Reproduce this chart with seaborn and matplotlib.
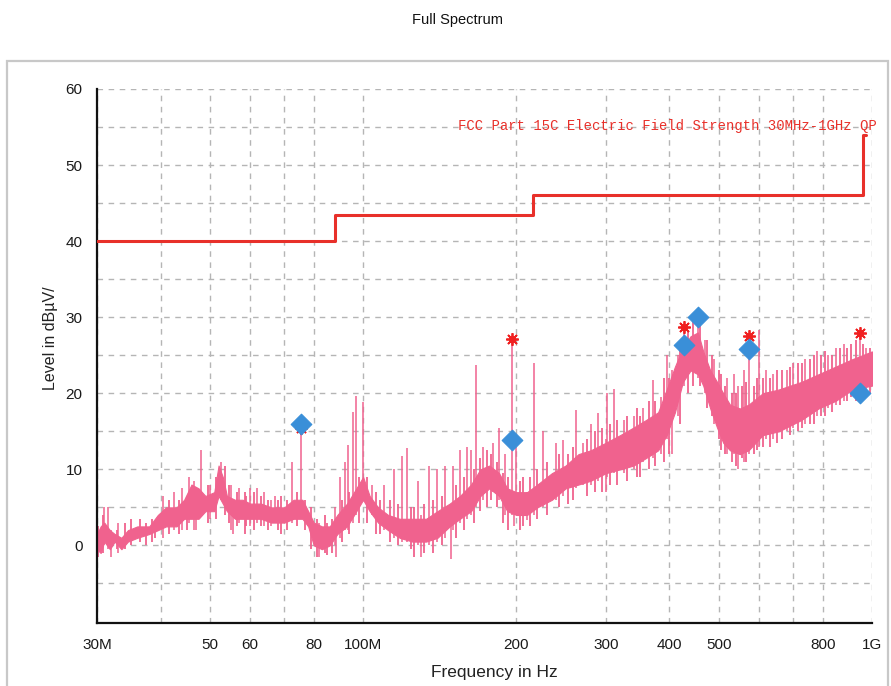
import pandas as pd
import matplotlib
matplotlib.use('Agg')
import matplotlib.pyplot as plt
import seaborn as sns
from matplotlib.patches import Rectangle
from matplotlib.ticker import FixedLocator, FixedFormatter, NullLocator

# 频谱包络 (MHz, dBµV/m) 从图中读取
spec_freq = [30, 30.5, 31, 31.8, 32.5, 33.5, 34.5, 36, 38, 39.5, 41, 43, 44.5, 46, 47.5, 49, 51, 52, 53, 54,
             56, 58, 60, 63, 66, 70, 73, 76, 78, 80, 83, 86, 89, 93, 97, 100, 103, 107, 112, 118,
             125, 133, 140, 148, 155, 163, 170, 177, 185, 192, 200, 210, 220, 235, 250, 265, 280, 300, 320, 340,
             360, 380, 395, 410, 425, 440, 455, 466, 481, 496, 510, 526, 550, 572, 610, 656, 727, 785, 848, 916, 1000]
spec_lo = [-0.5, -1, 0.5, -0.5, 0.5, -0.5, 0.5, 1, 1.5, 2, 2.5, 2.5, 3.5, 3.5, 3.5, 4.5, 4.5, 6.5, 5.5, 4.5,
           3.5, 3.5, 3.5, 3.5, 3, 3, 3.5, 3.5, 2.5, 0, -0.5, 0, 1.5, 2.5, 4.5, 6, 4.5, 3, 2, 1,
           0.5, 0.5, 1, 2.5, 3.5, 4.5, 6.5, 7.5, 6.5, 4.5, 4, 4, 5, 6, 7.5, 8, 8.5, 9.5, 10, 10.5,
           11.5, 12.5, 14.5, 17.5, 21.5, 23, 22.5, 21, 18, 15.5, 13.5, 12.5, 12, 12.5, 14.5, 15, 16.5, 18, 19, 20.5, 21]
spec_hi = [1.5, 2.5, 3, 2, 1.5, 1, 2, 2.5, 2.5, 4, 5, 5, 6, 8, 7.5, 6.5, 7, 10.5, 9, 6.5,
           6, 6, 5.5, 5.5, 5, 5, 6, 6, 4.5, 3, 2.5, 2.5, 4, 5.5, 7.5, 9, 6.5, 5, 4, 3.5,
           3.5, 3.5, 4.5, 5.5, 6.5, 8, 10, 10.5, 9.5, 7.5, 7, 7, 8, 9.5, 10.5, 12, 12.5, 13.5, 14.5, 15.5,
           16.5, 17.5, 20.5, 23.5, 26, 27.5, 28, 25.5, 23, 21.5, 20, 18.5, 18, 18.5, 20, 20.5, 21.5, 22.5, 23.5, 24.5, 25.5]

# 尖峰 (频率, 下端, 上端)
spike_f = [31, 31.5, 32, 33, 40.5, 42.5, 44, 45.5, 46.5, 47, 48, 50, 52.5, 55, 55.5, 57, 60, 62, 64, 66,
           67, 72.5, 75.5, 82, 88, 88.5, 90, 92, 93.5, 95.5, 97, 100, 104, 110, 115, 119, 122, 128, 130, 135,
           140, 145, 149, 150, 155, 160, 163, 167, 172, 180, 185, 190, 196.5, 198, 200, 210, 217, 226, 239, 247,
           262, 270, 280, 290, 300, 301, 311, 325, 340, 355, 371, 385, 395, 405, 415, 428, 455, 470, 490, 520,
           535, 545, 560, 572, 600, 620, 640, 680, 700, 740, 780, 820, 850, 880, 948, 975]
spike_lo = [0, -0.5, -1.5, -1, 1, 2, 2, 3, 2, 2, 4, 3.5, 6, 2, 1.5, 3, 2.5, 3, 2.5, 2.5,
            3, 3, 4, -1.5, 0, -1.5, 1, 2, 2, 3, 4, 6, 4, 2, 1, 0.5, 0.5, 0, -1.5, 0,
            0.5, 1, -1.8, 2, 3, 3.5, 4, 5, 6, 7, 6, 4, 4, 2.5, 4, 3.3, 4, 5, 6, 6.5,
            7.5, 8, 8, 8.5, 7, 9, 9.5, 9.5, 10, 11, 11.5, 12, 14, 12, 17, 21, 22, 20, 16, 12,
            12, 10, 11, 12, 13, 14, 14, 15, 15.5, 16, 17, 18, 18.5, 19, 20, 20]
spike_hi = [5, 5, 2, 3, 6.5, 7, 7.5, 9, 8.5, 7, 12.5, 8, 11, 8, 6, 7.5, 7.5, 7.5, 7, 6,
            6.5, 11, 15.5, 3, 5, 3, 9, 11, 13.2, 17.5, 19.7, 18.8, 8, 8, 10, 11.8, 12.8, 8.5, 4, 10.5,
            10, 10.5, 5, 10.5, 12.5, 12.9, 12.5, 23.7, 13, 13.5, 15.4, 12, 27.2, 7, 13, 7, 24, 15, 13.4, 13.8,
            17.8, 13.5, 16, 17.4, 14, 20, 20.6, 16.5, 17, 18, 21.7, 19.5, 25, 23, 25, 28.7, 31, 27, 24.5, 22,
            22.5, 21, 23, 27.5, 28.3, 23, 22.5, 23, 24, 24.5, 25.5, 25, 26, 26.5, 27.9, 26]

# 噪声纹理线 (频率, 下端, 上端)
texture_f = [30.2, 30.8, 32.8, 34, 35, 36.5, 37.5, 38.5, 39, 41.5, 43.5, 45, 49.5, 51.5, 53.5, 54.5, 56.5, 58.5, 59, 61,
             63, 65, 68, 69, 71, 74, 77, 79, 81, 84, 85, 87, 91, 94, 98, 102, 106, 108, 113, 117,
             124, 126, 132, 137, 143, 152, 158, 165, 170, 175, 178, 183, 188, 193, 203, 206, 213, 220, 230, 243,
             253, 258, 275, 285, 295, 305, 315, 330, 345, 350, 365, 375, 390, 400, 420, 435, 445, 460, 475, 485,
             500, 505, 515, 530, 540, 555, 565, 585, 595, 610, 630, 650, 665, 690, 715, 730, 755, 770, 795, 810,
             835, 865, 895, 910, 930, 960, 990]
texture_lo = [-1.5, -1, -0.5, -0.5, 0, 0.5, 0, 0.5, 1, 1.5, 1.5, 2, 3, 3.5, 4, 3, 2.5, 1.5, 2.5, 2,
              2.5, 2, 2, 1.5, 2, 2.5, 2, -0.5, -1.5, -1, -1.2, -1, 0.5, 1.5, 3, 3, 1.5, 1.5, 0.5, 0,
              -0.5, -1.5, -1, -1, 0, 1, 2, 3, 4.5, 5, 6, 5, 3, 2, 2, 2.5, 2.5, 3.5, 4, 5,
              5.5, 6, 6.5, 7, 7, 8, 8, 8.5, 9, 9, 10, 10.5, 11, 12, 16, 20, 21, 21, 18, 17,
              14, 12.5, 12, 11, 10.5, 11.5, 11, 12, 12.5, 13, 13, 13.5, 14, 14.5, 15, 15.5, 16, 16, 17, 17,
              17.5, 18.5, 19, 19.5, 19, 19.5, 20]
texture_hi = [2.5, 4, 2, 3, 3.5, 3.5, 3, 3.5, 3, 6, 6, 6.5, 8, 9, 10.5, 8, 7, 7, 6.5, 7,
              6.5, 6, 6, 6.5, 6, 7, 6, 5, 3.5, 4, 3, 3.5, 6, 7, 9, 9, 7, 6, 6, 5.5,
              5, 5, 5.5, 6, 6.5, 8, 9, 10, 11.5, 12.5, 12, 11, 9.5, 9, 8.5, 9, 9, 10, 11, 12,
              12, 13, 14, 15, 15.5, 16, 16.5, 17, 18, 17, 19, 19, 22, 22, 26, 28, 29.5, 29, 27, 25,
              23, 22.5, 21, 20, 20, 21, 21.5, 21, 22, 22, 22, 23, 23, 23.5, 24, 24, 24.5, 25, 25, 25.5,
              25, 26, 26, 26.5, 27, 26.5, 26]

# 限值线 FCC Part 15C
limit_freq = [30, 88, 216, 960, 975]
limit_level = [40, 43.5, 46, 54, 54]

# 标记点
qp_freq = [75.5, 196.5, 428, 572, 948]
qp_level = [15.4, 27.2, 28.7, 27.5, 27.9]
pk_freq = [75.5, 196.5, 428, 455, 572, 948]
pk_level = [15.9, 13.9, 26.4, 30.0, 25.8, 20.0]

xticks = [30, 40, 50, 60, 70, 80, 100, 200, 300, 400, 500, 600, 700, 800, 1000]
xlabels = ['30M', '', '50', '60', '', '80', '100M', '200', '300', '400', '500', '', '', '800', '1G']

sns.set_style('white')
plt.rcParams['font.family'] = ['Liberation Sans', 'DejaVu Sans']

pink = '#F0628E'
fig = plt.figure(figsize=(8.91, 6.86), dpi=100)
ax = fig.add_axes([97 / 891, 1 - 623 / 686, 775 / 891, 534 / 686])

# 频谱
ax.fill_between(spec_freq, spec_lo, spec_hi, color=pink, lw=0.8, zorder=2)
ax.vlines(texture_f, texture_lo, texture_hi, color=pink, lw=1.3, zorder=2)
ax.vlines(spike_f, spike_lo, spike_hi, color=pink, lw=1.1, zorder=2)

# 限值
limit_df = pd.DataFrame({'freq': limit_freq, 'level': limit_level})
sns.lineplot(data=limit_df, x='freq', y='level', drawstyle='steps-post', color='#E8302A', lw=2.2, ax=ax, zorder=3)

# 标记
ax.plot(qp_freq, qp_level, ls='none', marker=(8, 2, 0), ms=9, mew=1.3, color='#F02020', zorder=4)
ax.plot(qp_freq, qp_level, ls='none', marker='o', ms=4, color='#F02020', zorder=4)
sns.scatterplot(x=pk_freq, y=pk_level, marker='D', s=110, color='#3A8FD8', edgecolor='#3A8FD8', ax=ax, zorder=5)

ax.set_xscale('log')
ax.set_xlim(30, 1000)
ax.set_ylim(-10.2, 60)
ax.xaxis.set_major_locator(FixedLocator(xticks))
ax.xaxis.set_major_formatter(FixedFormatter(xlabels))
ax.xaxis.set_minor_locator(NullLocator())
ax.set_yticks(list(range(-5, 61, 5)))
ax.set_yticklabels(['' if v % 10 else str(v) for v in range(-5, 61, 5)])
ax.grid(True, color='#B5B5B5', ls=(0, (4, 4)), lw=1)
ax.tick_params(direction='inout', length=9, width=1.6, color='#111111', labelsize=11, labelcolor='#1a1a1a', pad=6)

for s in ['top', 'right']:
    ax.spines[s].set_visible(False)
for s in ['left', 'bottom']:
    ax.spines[s].set_color('#111111')
    ax.spines[s].set_linewidth(1.6)
ax.set_xlabel('')
ax.set_ylabel('')

ax.text(877 / 891, 1 - 126 / 686, 'FCC Part 15C Electric Field Strength 30MHz-1GHz QP', transform=fig.transFigure,
        ha='right', va='center', color='#E8302A', fontsize=10, family=['Liberation Mono', 'DejaVu Sans Mono'])

fig.text(458 / 891, 1 - 20 / 686, 'Full Spectrum', ha='center', va='center', fontsize=10.5, color='#111111')
fig.text(50 / 891, 1 - 338 / 686, 'Level in dBµV/', rotation=90, ha='center', va='center', fontsize=11.5, color='#222222')
fig.text(494 / 891, 1 - 673 / 686, 'Frequency in Hz', ha='center', va='center', fontsize=12.5, color='#222222')

fig.patches.append(Rectangle((7 / 891, -0.02), 881 / 891, 1 - 61 / 686 + 0.02, transform=fig.transFigure,
                             fill=False, edgecolor='#C8C8C8', lw=1.6))

fig.savefig('out.png', dpi=100)
